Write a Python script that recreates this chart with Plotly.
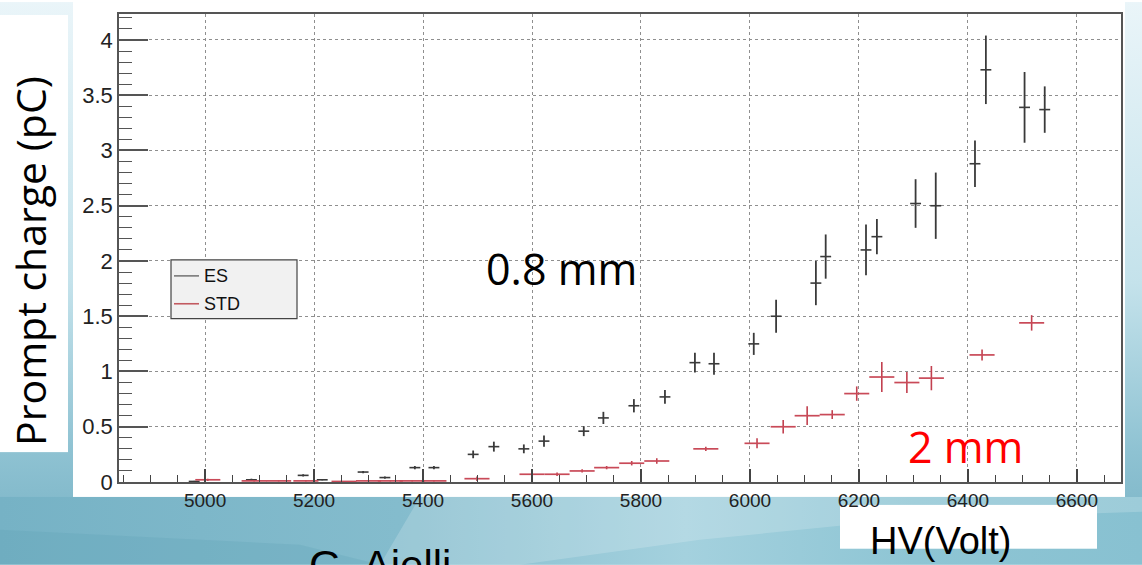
import base64
import plotly.graph_objects as go

# ES (0.8 mm gap) prompt charge vs high voltage
es_hv = [4980, 5085, 5180, 5215, 5290, 5330, 5385, 5420, 5492, 5530, 5585, 5622,
         5695, 5731, 5787, 5844, 5899, 5934, 6007, 6048, 6121, 6139, 6213, 6233,
         6304, 6341, 6413, 6433, 6504, 6541]
es_q = [0.005, 0.02, 0.06, 0.02, 0.09, 0.04, 0.13, 0.13, 0.25, 0.32, 0.30, 0.37,
        0.46, 0.58, 0.69, 0.77, 1.08, 1.07, 1.25, 1.50, 1.80, 2.04, 2.10, 2.22,
        2.52, 2.50, 2.88, 3.73, 3.39, 3.37]
es_q_err = [0.005, 0.01, 0.01, 0.005, 0.01, 0.01, 0.015, 0.015, 0.035, 0.045, 0.04, 0.05,
            0.045, 0.055, 0.06, 0.063, 0.09, 0.10, 0.10, 0.15, 0.20, 0.20, 0.23, 0.16,
            0.22, 0.30, 0.21, 0.31, 0.32, 0.21]
es_hv_err = 10

# STD (2 mm gap) prompt charge vs high voltage
std_hv = [5005, 5090, 5135, 5185, 5255, 5300, 5340, 5380, 5420, 5499, 5600, 5646,
          5692, 5737, 5783, 5829, 5919, 6013, 6061, 6105, 6151, 6196, 6242, 6288,
          6333, 6426, 6517]
std_q = [0.02, 0.01, 0.01, 0.01, 0.005, 0.01, 0.01, 0.01, 0.01, 0.03, 0.07, 0.07,
         0.10, 0.13, 0.17, 0.19, 0.30, 0.35, 0.50, 0.60, 0.61, 0.80, 0.95, 0.90,
         0.94, 1.15, 1.44]
std_q_err = [0.01, 0.005, 0.005, 0.005, 0.005, 0.005, 0.005, 0.005, 0.005, 0.02, 0.02, 0.015,
             0.015, 0.015, 0.02, 0.025, 0.02, 0.045, 0.06, 0.085, 0.04, 0.065, 0.135, 0.095,
             0.11, 0.05, 0.07]
std_hv_err = 23

W, H = 1142, 565
L, R, T, B = 119, 21, 12, 83
PW, PH = W - L - R, H - T - B


def px(x):
    return (x - L) / PW


def py(y):
    return (H - B - y) / PH


# slide backdrop: blue gradient, white panels
svg = f'''<svg xmlns="http://www.w3.org/2000/svg" width="{W}" height="{H}" viewBox="0 0 {W} {H}" preserveAspectRatio="none">
<defs>
<linearGradient id="v" x1="0" y1="0" x2="0" y2="1">
<stop offset="0" stop-color="#eaf5f9"/>
<stop offset="0.5" stop-color="#c4e2eb"/>
<stop offset="0.8" stop-color="#8ec2d2"/>
<stop offset="1" stop-color="#76b0c3"/>
</linearGradient>
<linearGradient id="h" x1="0" y1="0" x2="1" y2="0">
<stop offset="0" stop-color="#76b2c5"/>
<stop offset="0.35" stop-color="#84bccd"/>
<stop offset="0.6" stop-color="#a4d1de"/>
<stop offset="0.8" stop-color="#8ec5d4"/>
<stop offset="1" stop-color="#88c1d1"/>
</linearGradient>
</defs>
<rect x="0" y="0" width="{W}" height="{H}" fill="url(#v)"/>
<rect x="0" y="497" width="{W}" height="{H - 497}" fill="url(#h)"/>
<polygon points="420,497 1142,497 1142,512 900,520 700,540 520,565 380,565" fill="#ffffff" opacity="0.18"/>
<polygon points="0,565 0,530 300,545 380,565" fill="#5d9fb5" opacity="0.25"/>
<rect x="0" y="13" width="68" height="439" fill="#ffffff"/>
<rect x="73" y="0" width="1052" height="497" fill="#ffffff"/>
<rect x="840" y="505" width="257" height="44" fill="#ffffff"/>
</svg>'''
svg_uri = "data:image/svg+xml;base64," + base64.b64encode(svg.encode()).decode()

fig = go.Figure()

fig.add_trace(go.Scatter(
    x=es_hv, y=es_q, mode="markers", name="ES",
    marker=dict(size=1, opacity=0, color="#333333"),
    error_y=dict(type="data", array=es_q_err, width=0, thickness=1.8, color="#3a3a3a"),
    error_x=dict(type="constant", value=es_hv_err, width=0, thickness=1.6, color="#3a3a3a"),
    showlegend=False,
))
fig.add_trace(go.Scatter(
    x=std_hv, y=std_q, mode="markers", name="STD",
    marker=dict(size=1, opacity=0, color="#c0394b"),
    error_y=dict(type="data", array=std_q_err, width=0, thickness=1.6, color="#c2404f"),
    error_x=dict(type="constant", value=std_hv_err, width=0, thickness=1.7, color="#c94a58"),
    showlegend=False,
))

x_tick_font = dict(family="Liberation Sans, Arial, sans-serif", size=19, color="#222222")
y_tick_font = dict(family="Liberation Sans, Arial, sans-serif", size=22, color="#222222")

fig.update_xaxes(
    range=[4842, 6681], tick0=5000, dtick=200,
    ticks="inside", ticklen=13, tickwidth=1.5, tickcolor="#444444",
    minor=dict(dtick=50, tick0=5000, ticks="inside", ticklen=7, tickwidth=1.2, tickcolor="#444444", showgrid=False),
    showgrid=True, gridcolor="#8f8f8f", gridwidth=1, griddash="dot",
    showline=True, mirror=True, linecolor="#555555", linewidth=1.6,
    zeroline=False, tickfont=x_tick_font,
)
fig.update_yaxes(
    range=[0, 4.235], tick0=0, dtick=0.5,
    ticks="inside", ticklen=29, tickwidth=1.5, tickcolor="#555555",
    minor=dict(dtick=0.1, tick0=0, ticks="inside", ticklen=13, tickwidth=1.2, tickcolor="#555555", showgrid=False),
    showgrid=True, gridcolor="#8f8f8f", gridwidth=1, griddash="dot",
    showline=True, mirror=True, linecolor="#555555", linewidth=1.6,
    zeroline=False, tickfont=y_tick_font,
)

shapes = [
    # legend box
    dict(type="rect", xref="paper", yref="paper", x0=px(171), x1=px(297), y0=py(318), y1=py(259),
         fillcolor="#f1f1f1", line=dict(color="#444444", width=1.2), layer="above"),
    dict(type="line", xref="paper", yref="paper", x0=px(174), x1=px(199), y0=py(275), y1=py(275),
         line=dict(color="#7a7a7a", width=1.6), layer="above"),
    dict(type="line", xref="paper", yref="paper", x0=px(174), x1=px(199), y0=py(303), y1=py(303),
         line=dict(color="#c25a60", width=1.6), layer="above"),
]

ann_font = "Open Sans, sans-serif"
slide_font = "Liberation Sans, Arial, sans-serif"
annotations = [
    dict(text="ES", x=px(202), y=py(275), xanchor="left", yanchor="middle",
         font=dict(family=slide_font, size=18, color="#111111")),
    dict(text="STD", x=px(202), y=py(303), xanchor="left", yanchor="middle",
         font=dict(family=slide_font, size=18, color="#111111")),
    dict(text="0.8 mm", x=px(561), y=py(268), xanchor="center", yanchor="middle",
         font=dict(family=ann_font, size=43, color="#000000")),
    dict(text="2 mm", x=px(965), y=py(446), xanchor="center", yanchor="middle",
         font=dict(family=ann_font, size=43, color="#ff0000")),
    dict(text="Prompt charge (pC)", x=px(30), y=py(260), xanchor="center", yanchor="middle",
         textangle=-90, font=dict(family=ann_font, size=41, color="#000000")),
    dict(text="HV(Volt)", x=px(940), y=py(518), xanchor="center", yanchor="top",
         font=dict(family=slide_font, size=38, color="#000000")),
    dict(text="G. Aielli", x=px(380), y=py(540), xanchor="center", yanchor="top",
         font=dict(family=slide_font, size=42, color="#000000")),
]
for a in annotations:
    a.update(xref="paper", yref="paper", showarrow=False)

fig.update_layout(
    width=W, height=H,
    margin=dict(l=L, r=R, t=T, b=B, pad=0),
    paper_bgcolor="rgba(0,0,0,0)", plot_bgcolor="rgba(0,0,0,0)",
    shapes=shapes, annotations=annotations,
    images=[dict(source=svg_uri, xref="paper", yref="paper", x=px(0), y=py(0),
                 sizex=W / PW, sizey=H / PH, xanchor="left", yanchor="top",
                 sizing="stretch", layer="below")],
    showlegend=False,
)

fig.write_html("out.html")
